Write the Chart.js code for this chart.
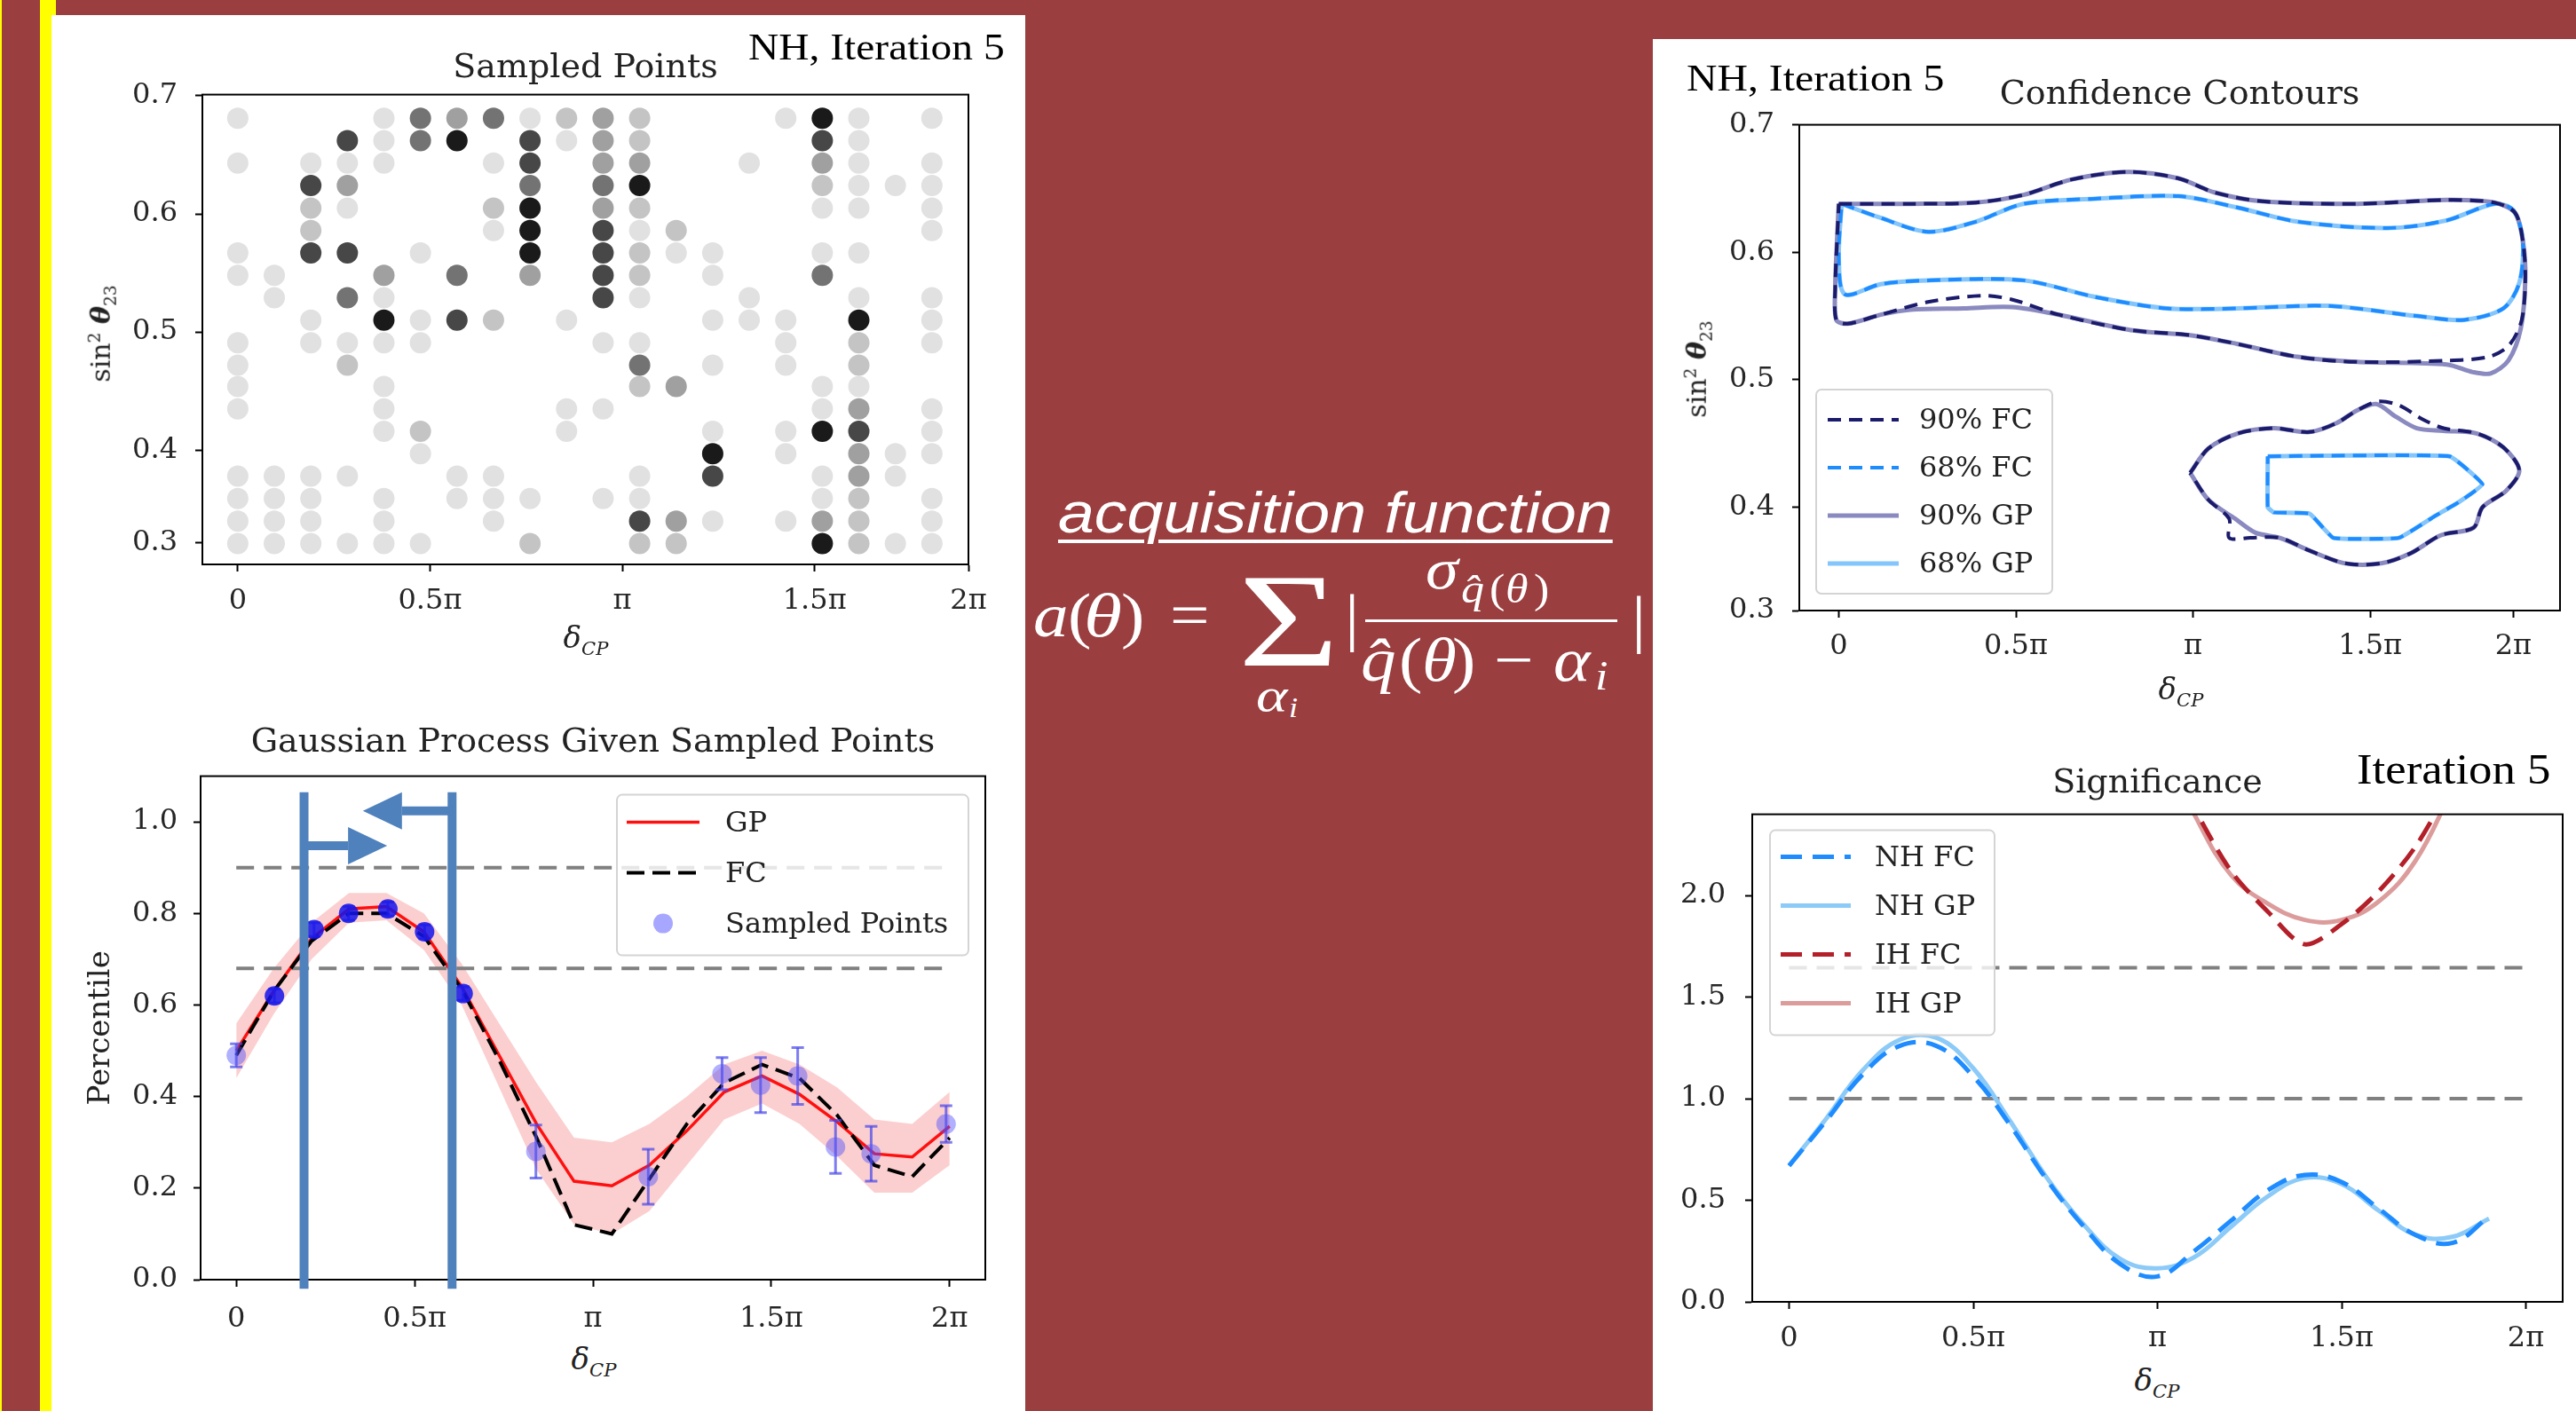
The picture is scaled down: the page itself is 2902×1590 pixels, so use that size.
<!DOCTYPE html>
<html>
<head>
<meta charset="utf-8">
<title>Acquisition function</title>
<script src="https://cdn.jsdelivr.net/npm/chart.js@4.4.1/dist/chart.umd.min.js"></script>
<style>
  html, body { margin: 0; padding: 0; }
  body { width: 2902px; height: 1590px; background: #9a3e3f; position: relative; overflow: hidden; }
  .abs { position: absolute; }
  .white { background: #fff; }
  .slide { position: absolute; color: #000; white-space: nowrap; font-family: 'Liberation Serif', serif; line-height: 1; transform-origin: 0 0; }
  .mlbl { position: absolute; white-space: nowrap; font-family: 'DejaVu Serif', serif; color: #222; line-height: 1; }
  .mlbl sub, .mlbl sup { font-size: 0.62em; }
  .f { position: absolute; color: #fff; font-family: 'Liberation Serif', serif; line-height: 1; white-space: nowrap; transform-origin: 0 0; transform: scaleX(1.13); }
</style>
</head>
<body>
<div class="abs" style="left:0;top:0;width:2px;height:1590px;background:#ffff00"></div>
<div class="abs" style="left:45px;top:0;width:13px;height:1590px;background:#ffff00"></div>
<div class="abs" style="left:45px;top:0;width:18px;height:17px;background:#ffff00"></div>
<div class="abs white" style="left:58px;top:17px;width:1097px;height:1573px"></div>
<div class="abs white" style="left:1862px;top:44px;width:1040px;height:1546px"></div>

<canvas id="chartA" class="abs" style="left:60px;top:30px" width="1090" height="680"></canvas>
<canvas id="chartB" class="abs" style="left:60px;top:790px" width="1090" height="720"></canvas>
<canvas id="chartC" class="abs" style="left:1870px;top:60px" width="1025" height="700"></canvas>
<canvas id="chartD" class="abs" style="left:1870px;top:830px" width="1027" height="700"></canvas>

<div class="slide" style="left:843px;top:32px;font-size:42px;transform:scaleX(1.13)">NH, Iteration 5</div>
<div class="slide" style="left:1900px;top:66px;font-size:43px;transform:scaleX(1.11)">NH, Iteration 5</div>
<div class="slide" style="left:2655px;top:843px;font-size:48px;transform:scaleX(1.1)">Iteration 5</div>

<!-- axis labels with sub/superscripts -->
<div class="mlbl" style="left:116px;top:376px;font-size:30px;transform:translate(-50%,-50%) rotate(-90deg)">sin<sup>2</sup> <b><i>θ</i></b><sub>23</sub></div>
<div class="mlbl" style="left:1914px;top:416px;font-size:30px;transform:translate(-50%,-50%) rotate(-90deg)">sin<sup>2</sup> <b><i>θ</i></b><sub>23</sub></div>
<div class="mlbl" style="left:660px;top:721px;font-size:34px;transform:translate(-50%,-50%)"><i>δ</i><sub><i>CP</i></sub></div>
<div class="mlbl" style="left:669px;top:1534px;font-size:34px;transform:translate(-50%,-50%)"><i>δ</i><sub><i>CP</i></sub></div>
<div class="mlbl" style="left:2457px;top:779px;font-size:34px;transform:translate(-50%,-50%)"><i>δ</i><sub><i>CP</i></sub></div>
<div class="mlbl" style="left:2430px;top:1558px;font-size:34px;transform:translate(-50%,-50%)"><i>δ</i><sub><i>CP</i></sub></div>

<div class="f" style="left:1192px;top:545px;font-family:'Liberation Sans',sans-serif;font-style:italic;font-size:65px;text-decoration:underline;text-decoration-thickness:4px;text-underline-offset:8px">acquisition function</div>
<div id="formula"></div>
<div class="abs" style="left:1538px;top:698px;width:284px;height:3px;background:#fff"></div>

<script>
Chart.defaults.font.family = "'DejaVu Serif', serif";
Chart.defaults.color = '#222';
Chart.defaults.animation = false;

// ---------- data ----------
// sampling grid of the top-left panel (delta_CP in units of pi, sin^2 theta_23)
const gridDelta = [0, 0.095, 0.19, 0.285, 0.38, 0.475, 0.57, 0.665, 0.76, 0.855, 0.95, 1.045, 1.14, 1.235, 1.33, 1.425, 1.52, 1.615, 1.71, 1.805];
const gridSin = [0.681, 0.662, 0.643, 0.624, 0.605, 0.586, 0.567, 0.548, 0.529, 0.510, 0.491, 0.472, 0.454, 0.435, 0.416, 0.397, 0.378, 0.359, 0.340, 0.321];
// [column, row, how often sampled (1 light .. 6 black)]
const samples = [
  [0,0,1],[0,2,1],[0,6,1],[0,7,1],[0,10,1],[0,11,1],[0,12,1],[0,13,1],[0,16,1],[0,17,1],[0,18,1],[0,19,1],
  [1,7,1],[1,8,1],[1,16,1],[1,17,1],[1,18,1],[1,19,1],
  [2,2,1],[2,3,5],[2,4,2],[2,5,2],[2,6,5],[2,9,1],[2,10,1],[2,16,1],[2,17,1],[2,18,1],[2,19,1],
  [3,1,5],[3,2,1],[3,3,3],[3,4,1],[3,6,5],[3,8,4],[3,10,1],[3,11,2],[3,16,1],[3,19,1],
  [4,0,1],[4,1,1],[4,2,1],[4,7,3],[4,8,1],[4,9,6],[4,10,1],[4,12,1],[4,13,1],[4,14,1],[4,17,1],[4,18,1],[4,19,1],
  [5,0,4],[5,1,4],[5,6,1],[5,9,1],[5,10,1],[5,14,2],[5,15,1],[5,19,1],
  [6,0,3],[6,1,6],[6,7,4],[6,9,5],[6,16,1],[6,17,1],
  [7,0,4],[7,2,1],[7,4,2],[7,5,1],[7,9,2],[7,16,1],[7,17,1],[7,18,1],
  [8,0,1],[8,1,5],[8,2,5],[8,3,4],[8,4,6],[8,5,6],[8,6,6],[8,7,3],[8,17,1],[8,19,2],
  [9,0,2],[9,1,1],[9,9,1],[9,13,1],[9,14,1],
  [10,0,3],[10,1,3],[10,2,3],[10,3,4],[10,4,3],[10,5,5],[10,6,5],[10,7,5],[10,8,5],[10,10,1],[10,13,1],[10,17,1],
  [11,0,2],[11,1,2],[11,2,3],[11,3,6],[11,4,2],[11,5,1],[11,6,2],[11,7,2],[11,8,1],[11,10,1],[11,11,4],[11,12,2],[11,16,1],[11,17,1],[11,18,5],[11,19,2],
  [12,5,2],[12,6,1],[12,12,3],[12,18,3],[12,19,2],
  [13,6,1],[13,7,1],[13,9,1],[13,11,1],[13,14,1],[13,15,6],[13,16,5],[13,18,1],
  [14,2,1],[14,8,1],[14,9,1],
  [15,0,1],[15,9,1],[15,10,1],[15,11,1],[15,14,1],[15,15,1],[15,18,1],
  [16,0,6],[16,1,5],[16,2,3],[16,3,2],[16,4,1],[16,6,1],[16,7,4],[16,12,1],[16,13,1],[16,14,6],[16,16,1],[16,17,1],[16,18,3],[16,19,6],
  [17,0,1],[17,1,1],[17,2,1],[17,3,1],[17,4,1],[17,6,1],[17,8,1],[17,9,6],[17,10,2],[17,11,2],[17,12,1],[17,13,3],[17,14,5],[17,15,3],[17,16,3],[17,17,2],[17,18,2],[17,19,2],
  [18,3,1],[18,15,1],[18,16,1],[18,19,1],
  [19,0,1],[19,2,1],[19,3,1],[19,4,1],[19,5,1],[19,8,1],[19,9,1],[19,10,1],[19,13,1],[19,14,1],[19,15,1],[19,17,1],[19,18,1],[19,19,1]
];

// Gaussian process panel
const gpX = [0, 0.105, 0.211, 0.316, 0.421, 0.526, 0.632, 0.737, 0.842, 0.947, 1.053, 1.158, 1.263, 1.368, 1.474, 1.579, 1.684, 1.789, 1.895, 2.0];
const gpMean = [0.50, 0.63, 0.745, 0.81, 0.815, 0.76, 0.64, 0.49, 0.34, 0.215, 0.205, 0.25, 0.325, 0.41, 0.445, 0.405, 0.345, 0.275, 0.268, 0.335];
const gpUpper = [0.56, 0.68, 0.78, 0.845, 0.845, 0.80, 0.69, 0.56, 0.43, 0.31, 0.30, 0.34, 0.40, 0.47, 0.50, 0.47, 0.42, 0.35, 0.34, 0.41];
const gpLower = [0.44, 0.58, 0.70, 0.78, 0.785, 0.72, 0.60, 0.42, 0.24, 0.12, 0.10, 0.15, 0.25, 0.35, 0.385, 0.34, 0.27, 0.19, 0.19, 0.25];
const fcPercentile = [0.49, 0.63, 0.74, 0.80, 0.80, 0.75, 0.635, 0.48, 0.31, 0.12, 0.10, 0.22, 0.34, 0.43, 0.47, 0.44, 0.36, 0.25, 0.225, 0.31];
const sampledX = [0, 0.107, 0.218, 0.315, 0.425, 0.528, 0.636, 0.84, 1.155, 1.362, 1.47, 1.574, 1.68, 1.78, 1.99];
const sampledY = [0.49, 0.62, 0.765, 0.80, 0.81, 0.76, 0.625, 0.28, 0.225, 0.45, 0.425, 0.445, 0.29, 0.275, 0.34];
const sampledErr = [0.025, 0.015, 0.015, 0.015, 0.015, 0.015, 0.015, 0.058, 0.06, 0.035, 0.06, 0.062, 0.058, 0.06, 0.04];
const percentileLevels = [0.9, 0.68];
const levelSpan = [0, 2];
// slide annotations on the GP panel (data units)
const markerX = [0.19, 0.605];
const markerSpan = [-0.02, 1.065];
const arrowRight = { y: 0.948, from: 0.19, to: 0.423 };
const arrowLeft = { y: 1.024, from: 0.605, to: 0.355 };

// confidence contours [delta/pi, sin^2 theta23]
const fc90Big = [[0,0.638],[0.202,0.638],[0.387,0.639],[0.521,0.645],[0.656,0.657],[0.816,0.663],[0.959,0.658],[1.06,0.647],[1.194,0.64],[1.463,0.638],[1.716,0.641],[1.85,0.639],[1.909,0.631],[1.931,0.609],[1.938,0.58],[1.928,0.547],[1.892,0.527],[1.834,0.518],[1.716,0.515],[1.463,0.514],[1.295,0.518],[1.127,0.528],[0.992,0.535],[0.824,0.539],[0.622,0.551],[0.488,0.563],[0.404,0.566],[0.252,0.561],[0.118,0.551],[0.025,0.544],[-0.007,0.547],[-0.01,0.573],[-0.005,0.609],[0,0.638]];
const gp90Big = [[0,0.638],[0.202,0.638],[0.387,0.639],[0.521,0.645],[0.656,0.657],[0.816,0.663],[0.959,0.658],[1.06,0.647],[1.194,0.64],[1.463,0.638],[1.716,0.641],[1.85,0.639],[1.909,0.631],[1.931,0.609],[1.938,0.58],[1.925,0.54],[1.89,0.515],[1.84,0.505],[1.79,0.506],[1.716,0.512],[1.463,0.514],[1.295,0.518],[1.127,0.528],[0.992,0.535],[0.824,0.539],[0.622,0.551],[0.488,0.557],[0.353,0.556],[0.202,0.555],[0.118,0.551],[0.025,0.544],[-0.007,0.547],[-0.01,0.573],[-0.005,0.609],[0,0.638]];
const fc68Big = [[0.008,0.638],[0.118,0.627],[0.252,0.616],[0.387,0.624],[0.521,0.638],[0.723,0.642],[0.959,0.644],[1.127,0.635],[1.295,0.624],[1.548,0.619],[1.716,0.625],[1.85,0.638],[1.904,0.633],[1.931,0.609],[1.921,0.576],[1.876,0.556],[1.766,0.547],[1.632,0.55],[1.379,0.558],[1.127,0.556],[0.925,0.556],[0.723,0.565],[0.521,0.578],[0.252,0.578],[0.118,0.575],[0.017,0.567],[0,0.595],[0.008,0.638]];
const gp68Big = [[0.008,0.638],[0.118,0.627],[0.252,0.616],[0.387,0.624],[0.521,0.638],[0.723,0.642],[0.959,0.644],[1.127,0.635],[1.295,0.624],[1.548,0.619],[1.716,0.625],[1.85,0.638],[1.904,0.633],[1.931,0.609],[1.921,0.576],[1.876,0.556],[1.766,0.547],[1.632,0.55],[1.379,0.558],[1.127,0.556],[0.925,0.556],[0.723,0.565],[0.521,0.578],[0.252,0.578],[0.118,0.575],[0.017,0.567],[0,0.595],[0.008,0.638]];
const fc90Small = [[0.992,0.427],[1.043,0.446],[1.127,0.458],[1.228,0.462],[1.329,0.459],[1.405,0.466],[1.463,0.476],[1.522,0.483],[1.581,0.48],[1.648,0.469],[1.707,0.462],[1.8,0.458],[1.876,0.447],[1.921,0.429],[1.884,0.413],[1.817,0.4],[1.792,0.384],[1.699,0.378],[1.615,0.364],[1.531,0.356],[1.43,0.356],[1.329,0.366],[1.245,0.376],[1.161,0.376],[1.102,0.376],[1.102,0.391],[1.043,0.406],[0.992,0.427]];
const gp90Small = [[0.992,0.427],[1.043,0.446],[1.127,0.458],[1.228,0.462],[1.329,0.459],[1.405,0.466],[1.463,0.476],[1.517,0.481],[1.573,0.471],[1.632,0.462],[1.707,0.46],[1.8,0.458],[1.876,0.447],[1.921,0.429],[1.884,0.413],[1.817,0.4],[1.792,0.384],[1.699,0.378],[1.615,0.364],[1.531,0.356],[1.43,0.356],[1.329,0.366],[1.245,0.376],[1.177,0.38],[1.119,0.391],[1.043,0.406],[0.992,0.427]];
const fc68Small = [[1.211,0.44],[1.724,0.44],[1.817,0.418],[1.75,0.404],[1.682,0.393],[1.581,0.376],[1.396,0.376],[1.329,0.395],[1.228,0.396],[1.211,0.4],[1.211,0.44]];
const gp68Small = [[1.211,0.44],[1.724,0.44],[1.817,0.418],[1.75,0.404],[1.682,0.393],[1.581,0.376],[1.396,0.376],[1.329,0.395],[1.228,0.396],[1.211,0.4],[1.211,0.44]];

// significance panel
const sigX = [0, 0.1, 0.2, 0.3, 0.4, 0.5, 0.6, 0.7, 0.8, 0.9, 1.0, 1.1, 1.2, 1.3, 1.4, 1.5, 1.6, 1.7, 1.8, 1.9];
const nhFC = [0.67, 0.89, 1.12, 1.26, 1.26, 1.11, 0.87, 0.60, 0.37, 0.185, 0.125, 0.25, 0.40, 0.55, 0.625, 0.59, 0.46, 0.33, 0.29, 0.42];
const nhGP = [0.67, 0.90, 1.14, 1.29, 1.30, 1.15, 0.89, 0.61, 0.38, 0.21, 0.165, 0.22, 0.37, 0.52, 0.61, 0.58, 0.45, 0.33, 0.32, 0.41];
const ihX = [1.0, 1.1, 1.2, 1.3, 1.4, 1.5, 1.6, 1.7, 1.8];
const ihFC = [2.78, 2.43, 2.12, 1.92, 1.76, 1.86, 2.02, 2.24, 2.55];
const ihGP = [2.78, 2.40, 2.10, 1.96, 1.88, 1.88, 1.97, 2.17, 2.52];
const sigmaLevels = [1.645, 1.0];

// tick positions / labels
const piLabels = ['0', '0.5π', 'π', '1.5π', '2π'];
const xTicksA = [0, 0.5, 1, 1.5, 1.9];
const xTicksC = [0, 0.5, 1, 1.5, 1.904];
const xTicks = [0, 0.5, 1, 1.5, 2];
const yTicksA = [0.3214, 0.4, 0.5, 0.6, 0.7];
const yTicksC = [0.319, 0.4, 0.5, 0.6, 0.7];
const sinLabels = ['0.3', '0.4', '0.5', '0.6', '0.7'];
const yTicksB = [0, 0.2, 0.4, 0.6, 0.8, 1.0];
const yLabelsB = ['0.0', '0.2', '0.4', '0.6', '0.8', '1.0'];
const yTicksD = [0, 0.5, 1.0, 1.5, 2.0];
const yLabelsD = ['0.0', '0.5', '1.0', '1.5', '2.0'];

// ---------- helpers ----------
const pts = (xs, ys) => xs.map((x, i) => ({ x, y: ys[i] }));
const loop = pairs => pairs.map(p => ({ x: p[0], y: p[1] }));
const level = y => [{ x: levelSpan[0], y }, { x: levelSpan[1], y }];

function axis(o) {
  return {
    type: 'linear', position: o.pos, min: o.min, max: o.max,
    border: { display: true, color: '#000', width: 2 },
    grid: { display: true, drawOnChartArea: false, drawTicks: true, tickLength: 8, tickWidth: 2, tickColor: '#000' },
    ticks: { autoSkip: false, maxRotation: 0, padding: o.pad, font: { size: 32 }, color: '#262626',
      callback: (v, i) => o.labels[i] },
    afterBuildTicks: s => { s.ticks = o.ticks.map(v => ({ value: v })); },
    afterFit: s => { if (o.pos === 'left') s.width = o.fit; else s.height = o.fit; },
    title: o.title || { display: false }
  };
}
function title(text, top, bottom) {
  return { display: true, text, fullSize: false, color: '#222',
    font: { size: 38, weight: 'normal' }, padding: { top: top + 1, bottom: bottom + 1 } };
}

const frame = {
  id: 'frame',
  afterDatasetsDraw(chart) {
    const { ctx, chartArea: a } = chart;
    ctx.save();
    ctx.strokeStyle = '#000'; ctx.lineWidth = 2;
    ctx.strokeRect(a.left, a.top, a.right - a.left, a.bottom - a.top);
    ctx.restore();
  }
};

// matplotlib-like legend box inside the axes
const boxLegend = {
  id: 'boxLegend',
  afterDatasetsDraw(chart, args, o) {
    if (!o || !o.items) return;
    const { ctx, chartArea: a } = chart;
    const x0 = o.left !== undefined ? a.left + o.left : a.right - o.right - o.width;
    const y0 = o.top !== undefined ? a.top + o.top : a.bottom - o.bottom - o.height;
    ctx.save();
    ctx.beginPath();
    ctx.roundRect(x0, y0, o.width, o.height, 6);
    ctx.fillStyle = 'rgba(255,255,255,0.8)';
    ctx.fill();
    ctx.strokeStyle = '#d4d4d4'; ctx.lineWidth = 2;
    ctx.stroke();
    ctx.font = "32px 'DejaVu Serif'";
    ctx.textBaseline = 'middle';
    o.items.forEach((idx, i) => {
      const ds = chart.data.datasets[idx];
      const y = y0 + o.first + i * o.pitch;
      if (ds.showLine) {
        ctx.beginPath();
        ctx.setLineDash(ds.borderDash || []);
        ctx.strokeStyle = ds.borderColor; ctx.lineWidth = ds.borderWidth;
        ctx.moveTo(x0 + o.lineX, y); ctx.lineTo(x0 + o.lineX + o.lineLen, y);
        ctx.stroke();
        ctx.setLineDash([]);
      } else {
        ctx.beginPath();
        ctx.fillStyle = o.markerColor;
        ctx.arc(x0 + o.lineX + o.lineLen / 2, y, ds.pointRadius, 0, Math.PI * 2);
        ctx.fill();
      }
      ctx.fillStyle = '#222';
      ctx.fillText(ds.label, x0 + o.textX, y + 2);
    });
    ctx.restore();
  }
};

// blue marker lines + arrows that sit on the GP panel
const slideMarks = {
  id: 'slideMarks',
  afterDatasetsDraw(chart) {
    const { ctx, scales: { x, y } } = chart;
    ctx.save();
    ctx.strokeStyle = '#4f81bd'; ctx.fillStyle = '#4f81bd'; ctx.lineWidth = 10;
    markerX.forEach(v => {
      ctx.beginPath();
      ctx.moveTo(x.getPixelForValue(v), y.getPixelForValue(markerSpan[1]));
      ctx.lineTo(x.getPixelForValue(v), y.getPixelForValue(markerSpan[0]));
      ctx.stroke();
    });
    [arrowRight, arrowLeft].forEach(ar => {
      const py = y.getPixelForValue(ar.y);
      const p0 = x.getPixelForValue(ar.from), p1 = x.getPixelForValue(ar.to);
      const dir = Math.sign(p1 - p0), head = 44;
      ctx.beginPath();
      ctx.moveTo(p0, py); ctx.lineTo(p1 - dir * head, py);
      ctx.stroke();
      ctx.beginPath();
      ctx.moveTo(p1, py);
      ctx.lineTo(p1 - dir * head, py - 21);
      ctx.lineTo(p1 - dir * head, py + 21);
      ctx.closePath();
      ctx.fill();
    });
    ctx.restore();
  }
};

// ---------- chart A: sampled points ----------
const shade = ['#ffffff', '#e1e1e1', '#c4c4c4', '#a0a0a0', '#737373', '#474747', '#1a1a1a'];
const orderedSamples = samples.slice().sort((p, q) => p[2] - q[2]);
new Chart(document.getElementById('chartA'), {
  type: 'scatter',
  data: { datasets: [{
    label: 'Sampled Points',
    data: orderedSamples.map(s => ({ x: gridDelta[s[0]], y: gridSin[s[1]] })),
    pointRadius: 12, pointBorderWidth: 0,
    pointBackgroundColor: orderedSamples.map(s => shade[s[2]])
  }] },
  options: {
    responsive: false,
    layout: { padding: { left: 0, right: 59, top: 0, bottom: 0 } },
    plugins: { legend: { display: false }, tooltip: { enabled: false }, title: title('Sampled Points', 23, 6) },
    scales: {
      x: axis({ pos: 'bottom', min: -0.092, max: 1.9, ticks: xTicksA, labels: piLabels, fit: 74, pad: 14 }),
      y: axis({ pos: 'left', min: 0.3033, max: 0.701, ticks: yTicksA, labels: sinLabels, fit: 168, pad: 20 })
    }
  },
  plugins: [frame]
});

// ---------- chart B: Gaussian process ----------
const errData = [];
sampledX.forEach((x, i) => {
  errData.push({ x, y: sampledY[i] - sampledErr[i] }, { x, y: sampledY[i] + sampledErr[i] }, { x, y: null });
});
new Chart(document.getElementById('chartB'), {
  type: 'scatter',
  data: { datasets: [
    { label: 'band', data: pts(gpX, gpUpper), showLine: true, borderWidth: 0, pointRadius: 0, fill: '+1', backgroundColor: 'rgba(244,110,110,0.33)', order: 9 },
    { label: 'band-low', data: pts(gpX, gpLower), showLine: true, borderWidth: 0, pointRadius: 0, fill: false, order: 9 },
    { label: 'GP', data: pts(gpX, gpMean), showLine: true, borderColor: '#ff1010', borderWidth: 3.5, pointRadius: 0, order: 4 },
    { label: 'FC', data: pts(gpX, fcPercentile), showLine: true, borderColor: '#000', borderWidth: 4, borderDash: [20, 9], pointRadius: 0, order: 3 },
    { label: '90%', data: level(percentileLevels[0]), showLine: true, borderColor: '#808080', borderWidth: 4, borderDash: [20, 11], pointRadius: 0, order: 8 },
    { label: '68%', data: level(percentileLevels[1]), showLine: true, borderColor: '#808080', borderWidth: 4, borderDash: [20, 11], pointRadius: 0, order: 8 },
    { label: 'err', data: errData, showLine: true, spanGaps: false, borderColor: 'rgba(70,70,235,0.7)', borderWidth: 3,
      pointStyle: 'line', pointRadius: 7, pointBorderWidth: 3, pointBorderColor: 'rgba(70,70,235,0.7)', order: 2 },
    { label: 'Sampled Points', data: pts(sampledX, sampledY), pointRadius: 11, pointBorderWidth: 0,
      pointBackgroundColor: sampledX.map((x, i) => i > 0 && i < 7 ? 'rgba(20,20,235,0.85)' : 'rgba(80,80,255,0.45)'), order: 1 }
  ] },
  options: {
    responsive: false,
    layout: { padding: { left: 0, right: 40, top: 0, bottom: 0 } },
    plugins: {
      legend: { display: false }, tooltip: { enabled: false },
      title: title('Gaussian Process Given Sampled Points', 23, 14),
      boxLegend: { items: [2, 3, 7], right: 19, top: 21, width: 396, height: 181, first: 31, pitch: 57,
        lineX: 11, lineLen: 82, textX: 122, markerColor: 'rgba(80,80,255,0.5)' }
    },
    scales: {
      x: axis({ pos: 'bottom', min: -0.1, max: 2.1, ticks: xTicks, labels: piLabels, fit: 68, pad: 17 }),
      y: axis({ pos: 'left', min: 0, max: 1.1, ticks: yTicksB, labels: yLabelsB, fit: 166, pad: 18,
        title: { display: true, text: 'Percentile', color: '#222', font: { size: 34 }, padding: { top: 34, bottom: 0 } } })
    }
  },
  plugins: [frame, slideMarks, boxLegend]
});

// ---------- chart C: confidence contours ----------
const c90fc = { borderColor: '#1b1b6b', borderWidth: 4, borderDash: [15, 9], order: 1 };
const c68fc = { borderColor: '#1e8cff', borderWidth: 4, borderDash: [15, 9], order: 1 };
const c90gp = { borderColor: '#8a8ac0', borderWidth: 5, order: 2 };
const c68gp = { borderColor: '#84c6fb', borderWidth: 5, order: 2 };
const line = (label, data, style, tension) => Object.assign({ label, data, showLine: true, pointRadius: 0, tension }, style);
new Chart(document.getElementById('chartC'), {
  type: 'scatter',
  data: { datasets: [
    line('90% FC', loop(fc90Big), c90fc, 0.3),
    line('68% FC', loop(fc68Big), c68fc, 0.3),
    line('90% GP', loop(gp90Big), c90gp, 0.3),
    line('68% GP', loop(gp68Big), c68gp, 0.3),
    line('90% FC', loop(fc90Small), c90fc, 0.3),
    line('68% FC', loop(fc68Small), c68fc, 0.1),
    line('90% GP', loop(gp90Small), c90gp, 0.3),
    line('68% GP', loop(gp68Small), c68gp, 0.1)
  ] },
  options: {
    responsive: false,
    layout: { padding: { left: 0, right: 11, top: 0, bottom: 0 } },
    plugins: {
      legend: { display: false }, tooltip: { enabled: false },
      title: title('Confidence Contours', 23, 10),
      boxLegend: { items: [0, 1, 2, 3], left: 19, bottom: 19, width: 266, height: 230, first: 34, pitch: 54,
        lineX: 13, lineLen: 80, textX: 116 }
    },
    scales: {
      x: axis({ pos: 'bottom', min: -0.1115, max: 2.036, ticks: xTicksC, labels: piLabels, fit: 72, pad: 13 }),
      y: axis({ pos: 'left', min: 0.319, max: 0.7, ticks: yTicksC, labels: sinLabels, fit: 157, pad: 20 })
    }
  },
  plugins: [frame, boxLegend]
});

// ---------- chart D: significance ----------
new Chart(document.getElementById('chartD'), {
  type: 'scatter',
  data: { datasets: [
    { label: 'NH FC', data: pts(sigX, nhFC), showLine: true, borderColor: '#1e8cff', borderWidth: 5, borderDash: [24, 12], pointRadius: 0, tension: 0.4, order: 1 },
    { label: 'NH GP', data: pts(sigX, nhGP), showLine: true, borderColor: '#8ccaf8', borderWidth: 5, pointRadius: 0, tension: 0.4, order: 2 },
    { label: 'IH FC', data: pts(ihX, ihFC), showLine: true, borderColor: '#b3202a', borderWidth: 5, borderDash: [24, 12], pointRadius: 0, tension: 0.3, order: 1 },
    { label: 'IH GP', data: pts(ihX, ihGP), showLine: true, borderColor: '#dc9c9c', borderWidth: 5, pointRadius: 0, tension: 0.4, order: 2 },
    { label: '1.645', data: level(sigmaLevels[0]), showLine: true, borderColor: '#808080', borderWidth: 4, borderDash: [20, 11], pointRadius: 0, order: 3 },
    { label: '1.0', data: level(sigmaLevels[1]), showLine: true, borderColor: '#808080', borderWidth: 4, borderDash: [20, 11], pointRadius: 0, order: 3 }
  ] },
  options: {
    responsive: false,
    layout: { padding: { left: 0, right: 10, top: 0, bottom: 0 } },
    plugins: {
      legend: { display: false }, tooltip: { enabled: false },
      title: title('Significance', 29, 11),
      boxLegend: { items: [0, 1, 2, 3], left: 20, top: 18, width: 253, height: 231, first: 30, pitch: 55,
        lineX: 12, lineLen: 79, textX: 118 }
    },
    scales: {
      x: axis({ pos: 'bottom', min: -0.1, max: 2.1, ticks: xTicks, labels: piLabels, fit: 63, pad: 14 }),
      y: axis({ pos: 'left', min: 0, max: 2.4, ticks: yTicksD, labels: yLabelsD, fit: 104, pad: 22 })
    }
  },
  plugins: [frame, boxLegend]
});

// ---------- formula glyphs: [text, left, baseline, size, italic, extra x-stretch] ----------
const glyphs = [
  ['a', 1164, 718, 70, 1], ['(', 1203, 718, 70, 0], ['θ', 1221, 718, 70, 1, 1.25], [')', 1263, 718, 70, 0],
  ['=', 1318, 718, 70, 0], ['Σ', 1395, 750, 150, 0, 1.3], ['α', 1415, 802, 52, 1, 1.3], ['i', 1452, 808, 32, 1],
  ['|', 1515, 720, 72, 0],
  ['σ', 1606, 663, 66, 1], ['q\u0302', 1646, 680, 46, 1], ['(', 1678, 680, 46, 0], ['θ', 1696, 680, 46, 1], [')', 1728, 680, 46, 0],
  ['q\u0302', 1533, 768, 70, 1], ['(', 1576, 768, 70, 0], ['θ', 1602, 768, 70, 1], [')', 1636, 768, 70, 0],
  ['−', 1683, 768, 70, 0], ['α', 1750, 768, 70, 1], ['i', 1797, 778, 46, 1],
  ['|', 1838, 722, 72, 0]
];
const fbox = document.getElementById('formula');
glyphs.forEach(g => {
  const s = document.createElement('div');
  s.className = 'f';
  s.textContent = g[0];
  s.style.left = g[1] + 'px';
  s.style.top = (g[2] - 0.8375 * g[3]) + 'px';
  s.style.fontSize = g[3] + 'px';
  if (g[4]) s.style.fontStyle = 'italic';
  if (g[5]) s.style.transform = 'scaleX(' + g[5] + ')';
  fbox.appendChild(s);
});
</script>
</body>
</html>
